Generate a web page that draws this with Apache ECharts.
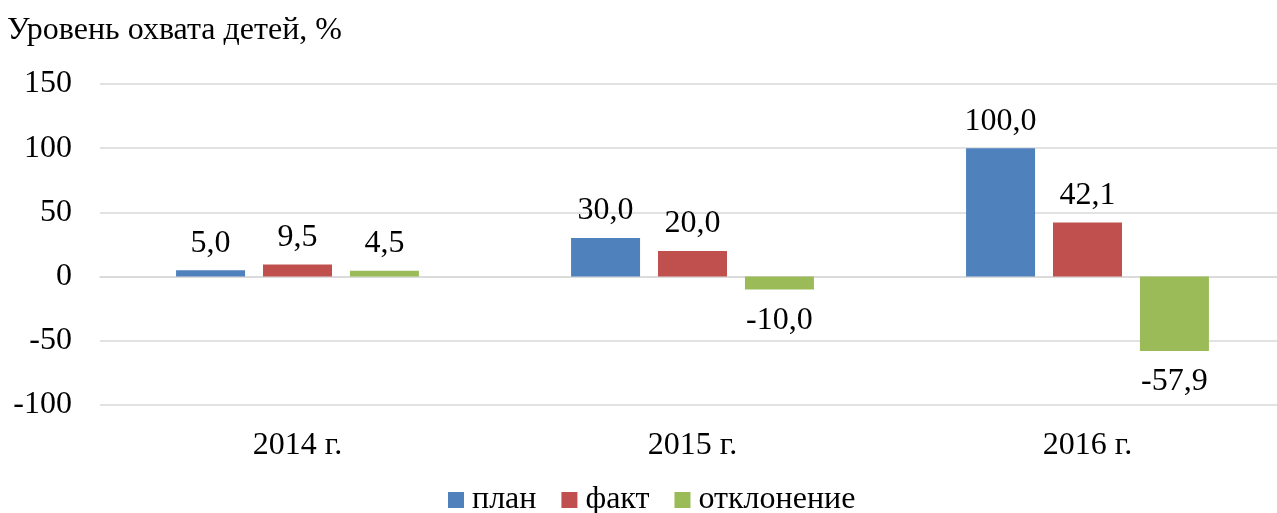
<!DOCTYPE html>
<html>
<head>
<meta charset="utf-8">
<script src="https://cdn.jsdelivr.net/npm/echarts@6/dist/echarts.min.js"></script>
<style>
  html, body { margin: 0; padding: 0; background: #fff; }
  #chart { width: 1277px; height: 513px; }
</style>
</head>
<body>
<div id="chart"></div>
<script>
// Охват детей: план, факт и отклонение по годам
const years = ['2014 г.', '2015 г.', '2016 г.'];
const planValues = [5.0, 30.0, 100.0];
const factValues = [9.5, 20.0, 42.1];
const deviationValues = [4.5, -10.0, -57.9];
const seriesNames = ['план', 'факт', 'отклонение'];
const seriesColors = ['#4F81BD', '#C0504D', '#9BBB59'];

const FONT = '"Liberation Serif", "Times New Roman", serif';
const FS = 32;

function fmt(v) {
  return v.toFixed(1).replace('.', ',');
}

// Labels sit above positive bars and below negative ones
function withLabels(values) {
  return values.map(v => ({
    value: v,
    label: { position: v < 0 ? 'bottom' : 'top', distance: v < 0 ? 15 : 11 }
  }));
}

const chart = echarts.init(document.getElementById('chart'));
const allValues = [planValues, factValues, deviationValues];

chart.setOption({
  animation: false,
  textStyle: { fontFamily: FONT, color: '#000' },
  title: {
    text: 'Уровень охвата детей, %',
    left: 2,
    top: 10,
    textStyle: { fontFamily: FONT, fontSize: FS, fontWeight: 'normal', color: '#000' }
  },
  legend: {
    left: 443,
    top: 479,
    itemWidth: 16,
    itemHeight: 16,
    itemGap: 25,
    icon: 'rect',
    textStyle: { fontFamily: FONT, fontSize: FS, color: '#000', padding: [0, 0, 0, 3] },
    data: seriesNames
  },
  // plot area runs a little past the right edge of the canvas
  grid: { left: 100, width: 1185, top: 84, bottom: 108, containLabel: false, outerBoundsMode: 'none' },
  xAxis: {
    type: 'category',
    data: years,
    axisLine: { show: true, onZero: true, lineStyle: { color: '#d9d9d9', width: 1.5 } },
    axisTick: { show: false },
    axisLabel: { fontFamily: FONT, fontSize: FS, color: '#000', margin: 25 },
    position: 'bottom'
  },
  yAxis: {
    type: 'value',
    min: -100,
    max: 150,
    interval: 50,
    axisLine: { show: false },
    axisTick: { show: false },
    axisLabel: { fontFamily: FONT, fontSize: FS, color: '#000', margin: 28 },
    splitLine: { lineStyle: { color: '#d9d9d9', width: 1.5 } }
  },
  series: seriesNames.map((name, i) => ({
    name: name,
    type: 'bar',
    barWidth: 69,
    barGap: '26%',
    data: withLabels(allValues[i]),
    itemStyle: { color: seriesColors[i] },
    label: {
      show: true,
      fontFamily: FONT,
      fontSize: FS,
      color: '#000',
      formatter: p => fmt(p.value)
    }
  }))
});
</script>
</body>
</html>
